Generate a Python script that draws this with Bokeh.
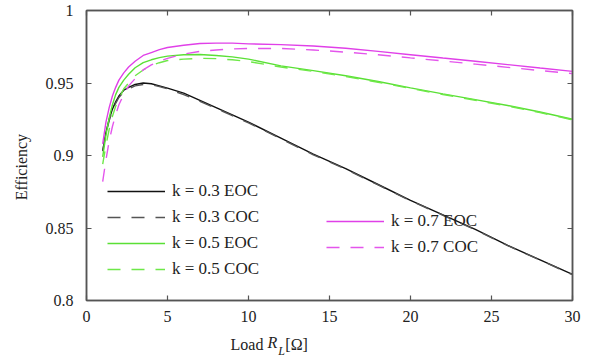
from bokeh.plotting import figure
from bokeh.models import Legend, LegendItem, LinearAxis, NumeralTickFormatter, FixedTicker
from bokeh.embed import file_html
from bokeh.resources import INLINE

# Load resistance R_L [Ohm]
load = [1.0, 1.2, 1.4, 1.6, 1.8, 2.0, 2.3, 2.6, 3.0, 3.5, 4.0, 4.5, 5, 6, 7, 8, 9, 10,
        12, 14, 16, 18, 20, 22, 24, 26, 28, 30]

k03_eoc = [0.903, 0.916, 0.925, 0.932, 0.937, 0.941, 0.945, 0.947, 0.949, 0.950, 0.9495, 0.948,
           0.9465, 0.943, 0.938, 0.933, 0.928, 0.923, 0.912, 0.901, 0.891, 0.880, 0.869, 0.859,
           0.849, 0.838, 0.828, 0.818]
k03_coc = [0.903, 0.915, 0.924, 0.931, 0.936, 0.940, 0.944, 0.946, 0.948, 0.949, 0.9488, 0.9475,
           0.946, 0.942, 0.9373, 0.9325, 0.9275, 0.9225, 0.9115, 0.9005, 0.8905, 0.8797, 0.8688,
           0.8588, 0.8488, 0.8378, 0.8278, 0.8178]
k05_eoc = [0.899, 0.914, 0.926, 0.935, 0.942, 0.947, 0.952, 0.956, 0.9605, 0.964, 0.966, 0.9675,
           0.9685, 0.9695, 0.9697, 0.969, 0.968, 0.9665, 0.9618, 0.9585, 0.955, 0.951, 0.9466,
           0.9425, 0.9385, 0.9345, 0.930, 0.925]
k05_coc = [0.894, 0.907, 0.918, 0.927, 0.934, 0.939, 0.946, 0.950, 0.955, 0.959, 0.962, 0.964,
           0.9655, 0.9665, 0.967, 0.9668, 0.966, 0.9648, 0.961, 0.958, 0.9545, 0.9505, 0.9462,
           0.9421, 0.9381, 0.9341, 0.9296, 0.9246]
k07_eoc = [0.908, 0.923, 0.933, 0.941, 0.947, 0.952, 0.957, 0.961, 0.965, 0.969, 0.971, 0.973,
           0.9745, 0.976, 0.9772, 0.9775, 0.9775, 0.977, 0.9765, 0.9755, 0.974, 0.9718, 0.9695,
           0.9672, 0.965, 0.9627, 0.9603, 0.958]
k07_coc = [0.882, 0.897, 0.910, 0.920, 0.928, 0.935, 0.942, 0.948, 0.953, 0.959, 0.9625, 0.965,
           0.967, 0.970, 0.9718, 0.9728, 0.9735, 0.9738, 0.9738, 0.9728, 0.9713, 0.9695, 0.9673,
           0.9652, 0.963, 0.9608, 0.9586, 0.9565]

labels = ["k = 0.3 EOC", "k = 0.3 COC", "k = 0.5 EOC", "k = 0.5 COC", "k = 0.7 EOC", "k = 0.7 COC"]
x_ticks = [0, 5, 10, 15, 20, 25, 30]
y_ticks = [0.8, 0.85, 0.9, 0.95, 1.0]

# axis titles: text pieces and where they sit along their axis
x_title_regular = {9.91: "Load", 12.97: "[Ω]"}
x_title_italic = {11.48: "R"}
x_title_sub = {12.04: "L"}
y_title = {0.892: "Efficiency"}

FONT = "Liberation Serif"
AX = "#555555"
TXT = "#222222"

p = figure(width=584, height=360, x_range=(0, 30), y_range=(0.8, 1.0),
           output_backend="svg", toolbar_location=None,
           min_border_left=86, min_border_right=12, min_border_top=10, min_border_bottom=58)
p.xgrid.visible = False
p.ygrid.visible = False
p.outline_line_color = AX
p.outline_line_width = 1.5

series = [
    (k03_eoc, "#111111", "solid"),
    (k03_coc, "#555555", "13 11"),
    (k05_eoc, "#5ae035", "solid"),
    (k05_coc, "#6ee848", "13 11"),
    (k07_eoc, "#e040e8", "solid"),
    (k07_coc, "#e455ec", "13 11"),
]
renderers = []
for ys, col, dash in series:
    r = p.line(load, ys, line_color=col, line_width=1.4, line_dash=dash)
    renderers.append(r)

def style_axis(ax, show_labels):
    ax.axis_line_color = AX
    ax.axis_line_width = 1.5
    ax.major_tick_line_color = AX
    ax.major_tick_line_width = 1.2
    ax.major_tick_in = 5
    ax.major_tick_out = 0
    ax.minor_tick_line_color = None
    if show_labels:
        ax.major_label_text_font = FONT
        ax.major_label_text_font_size = "16px"
        ax.major_label_text_color = TXT
    else:
        ax.major_label_text_font_size = "0px"
        ax.major_label_standoff = 0

p.xaxis.ticker = FixedTicker(ticks=x_ticks)
p.yaxis.ticker = FixedTicker(ticks=y_ticks)
p.yaxis.formatter = NumeralTickFormatter(format="0.[00]")
style_axis(p.xaxis[0], True)
style_axis(p.yaxis[0], True)
p.xaxis.major_label_standoff = 10
p.yaxis.major_label_standoff = 13

top = LinearAxis(ticker=FixedTicker(ticks=x_ticks))
right = LinearAxis(ticker=FixedTicker(ticks=y_ticks))
style_axis(top, False)
style_axis(right, False)
p.add_layout(top, "above")
p.add_layout(right, "right")

# text-only axes that carry the axis titles
def title_axis(pieces, place, standoff, size="16px", style="normal", orientation="horizontal"):
    ax = LinearAxis(ticker=FixedTicker(ticks=list(pieces.keys())),
                    major_label_overrides=pieces)
    ax.axis_line_color = None
    ax.major_tick_line_color = None
    ax.minor_tick_line_color = None
    ax.major_tick_in = 0
    ax.major_tick_out = 0
    ax.major_label_standoff = standoff
    ax.major_label_orientation = orientation
    ax.major_label_text_font = FONT
    ax.major_label_text_font_size = size
    ax.major_label_text_font_style = style
    ax.major_label_text_color = TXT
    p.add_layout(ax, place)
    return ax

title_axis(x_title_italic, "below", 9, style="italic")
title_axis(x_title_sub, "below", -10, size="12px", style="italic")
title_axis(x_title_regular, "below", -25)
title_axis(y_title, "left", 12, orientation="vertical")

def make_legend(items, loc):
    return Legend(items=items, location=loc, padding=0, margin=0, spacing=6,
                  glyph_width=58, glyph_height=20, label_height=20, label_standoff=7,
                  label_text_font=FONT, label_text_font_size="17px", label_text_color=TXT,
                  border_line_alpha=0, background_fill_alpha=0)

left_items = [LegendItem(label=labels[i], renderers=[renderers[i]]) for i in range(4)]
right_items = [LegendItem(label=labels[i], renderers=[renderers[i]]) for i in range(4, 6)]
p.add_layout(make_legend(left_items, (21, 21)))
p.add_layout(make_legend(right_items, (240, 43)))

open("out.html", "w").write(file_html(p, INLINE))
